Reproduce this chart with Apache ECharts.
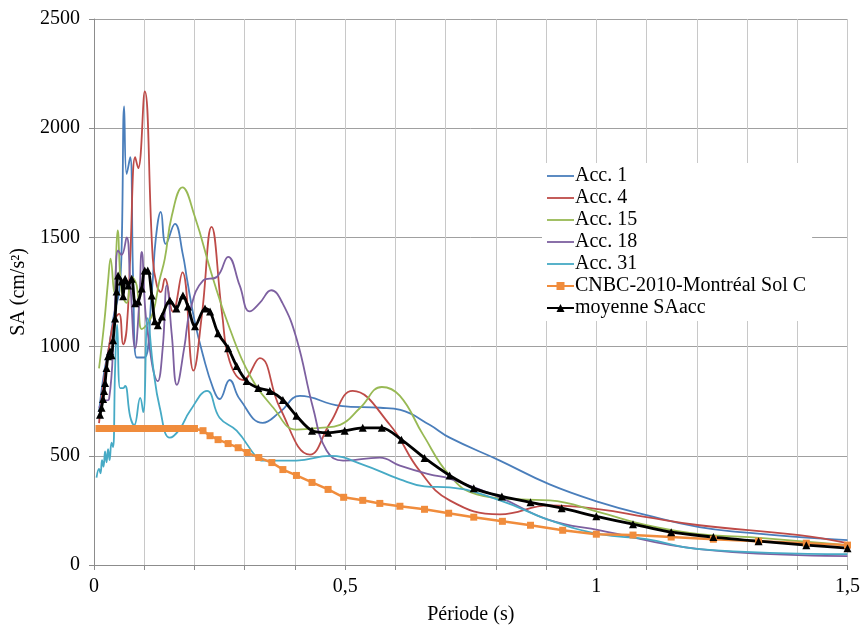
<!DOCTYPE html>
<html><head><meta charset="utf-8">
<script src="https://cdn.jsdelivr.net/npm/echarts@6/dist/echarts.min.js"></script>
<style>html,body{margin:0;padding:0;background:#fff}#c{width:863px;height:630px}</style>
</head><body><div id="c"></div>
<script>
var xTicks = ['0', '0,5', '1', '1,5'];
var yTicks = [0, 500, 1000, 1500, 2000, 2500];
var seriesNames = ['Acc. 1', 'Acc. 4', 'Acc. 15', 'Acc. 18', 'Acc. 31', 'CNBC-2010-Montréal Sol C', 'moyenne SAacc'];

var acc1 = [[0.01,700],[0.02,880],[0.03,1000],[0.04,1150],[0.05,1250],[0.055,1450],[0.06,2100],[0.065,1790],[0.072,1867],[0.078,1300],[0.085,950],[0.1,950],[0.115,1250],[0.123,1494],[0.133,1617],[0.143,1470],[0.161,1562],[0.177,1420],[0.185,1311],[0.2,1120],[0.217,960],[0.237,810],[0.25,760],[0.27,847],[0.29,760],[0.336,651],[0.37,700],[0.41,774],[0.49,729],[0.57,720],[0.61,710],[0.668,642],[0.708,583],[0.808,478],[0.907,369],[1.007,287],[1.1,228],[1.205,173],[1.3,148],[1.404,128],[1.5,114]];
var acc4 = [[0.01,650],[0.02,850],[0.03,1000],[0.04,1120],[0.05,1150],[0.058,1010],[0.065,1080],[0.072,1403],[0.082,1867],[0.088,1817],[0.101,2168],[0.117,1403],[0.125,1281],[0.133,1250],[0.141,1311],[0.157,1160],[0.176,1340],[0.198,890],[0.215,1150],[0.234,1548],[0.255,1150],[0.27,933],[0.297,847],[0.33,947],[0.37,720],[0.43,505],[0.47,650],[0.515,797],[0.589,642],[0.648,432],[0.708,296],[0.808,232],[0.907,273],[1.007,255],[1.1,219],[1.205,182],[1.404,137],[1.5,100]];
var acc15 = [[0.01,900],[0.02,1100],[0.028,1300],[0.033,1403],[0.04,1250],[0.047,1532],[0.055,1250],[0.065,1200],[0.075,1320],[0.085,1280],[0.095,1080],[0.105,1100],[0.118,1160],[0.13,1300],[0.141,1403],[0.155,1600],[0.176,1729],[0.2,1600],[0.237,1311],[0.27,1084],[0.31,870],[0.357,720],[0.403,620],[0.45,628],[0.49,642],[0.53,720],[0.573,815],[0.609,774],[0.655,597],[0.708,410],[0.762,323],[0.85,300],[0.907,296],[1.007,241],[1.1,182],[1.205,141],[1.305,128],[1.5,91]];
var acc18 = [[0.01,720],[0.02,750],[0.03,760],[0.04,1100],[0.048,1440],[0.055,1420],[0.065,1500],[0.072,1300],[0.082,993],[0.09,1200],[0.095,1434],[0.105,1100],[0.127,842],[0.137,1000],[0.145,1280],[0.155,1050],[0.165,825],[0.18,1000],[0.191,1161],[0.217,1302],[0.245,1320],[0.267,1411],[0.29,1280],[0.31,1161],[0.33,1200],[0.353,1258],[0.375,1200],[0.403,1038],[0.436,720],[0.463,524],[0.496,478],[0.569,492],[0.609,455],[0.668,415],[0.708,395],[0.808,310],[0.907,205],[1.007,159],[1.205,73],[1.5,41]];
var acc31 = [[0.005,400],[0.01,440],[0.013,420],[0.016,480],[0.019,450],[0.022,520],[0.025,470],[0.028,530],[0.031,480],[0.035,560],[0.038,540],[0.042,900],[0.046,1100],[0.052,810],[0.058,810],[0.062,820],[0.072,680],[0.08,640],[0.092,765],[0.098,700],[0.107,1130],[0.118,900],[0.131,720],[0.151,583],[0.17,620],[0.191,705],[0.225,797],[0.25,674],[0.284,615],[0.324,492],[0.336,478],[0.403,478],[0.47,500],[0.535,460],[0.609,392],[0.658,360],[0.708,355],[0.808,296],[0.907,205],[1.007,141],[1.1,118],[1.205,73],[1.5,50]];
var cnbc = [[0.01,625],[0.02,625],[0.03,625],[0.04,625],[0.05,625],[0.06,625],[0.07,625],[0.08,625],[0.09,625],[0.1,625],[0.11,625],[0.12,625],[0.13,625],[0.14,625],[0.15,625],[0.16,625],[0.17,625],[0.18,625],[0.19,625],[0.2,625],[0.217,615],[0.231,592],[0.247,574],[0.267,556],[0.287,537],[0.305,515],[0.328,492],[0.354,469],[0.376,437],[0.403,410],[0.434,378],[0.466,346],[0.497,310],[0.535,296],[0.569,282],[0.609,269],[0.658,255],[0.706,237],[0.756,219],[0.813,200],[0.869,182],[0.933,159],[1.0,141],[1.073,137],[1.149,128],[1.233,118],[1.323,109],[1.418,100],[1.5,91]];
var moyenne = [[0.012,688],[0.015,720],[0.018,760],[0.02,797],[0.022,833],[0.025,902],[0.028,956],[0.032,979],[0.035,960],[0.038,1029],[0.042,1129],[0.045,1252],[0.048,1325],[0.055,1298],[0.058,1230],[0.062,1311],[0.068,1280],[0.075,1311],[0.082,1198],[0.088,1207],[0.095,1266],[0.101,1348],[0.107,1348],[0.115,1234],[0.121,1116],[0.127,1098],[0.135,1138],[0.151,1211],[0.164,1175],[0.177,1234],[0.187,1184],[0.201,1093],[0.221,1175],[0.231,1161],[0.247,1061],[0.267,993],[0.284,911],[0.304,842],[0.327,810],[0.35,797],[0.376,756],[0.403,683],[0.434,615],[0.466,606],[0.499,615],[0.535,628],[0.573,628],[0.612,574],[0.658,490],[0.708,410],[0.756,351],[0.812,314],[0.869,287],[0.931,260],[1.0,223],[1.073,187],[1.149,150],[1.233,128],[1.323,109],[1.418,91],[1.5,77]];

var colors = ['#4A7EBB', '#BE4B48', '#98B954', '#7D60A0', '#46AAC5', '#F08C3C', '#000000'];
var FONT = '"Liberation Serif", "Times New Roman", serif';
var LINE_ICON = 'path://M0,0L30,0L30,2L0,2Z';

function accSeries(name, data, color) {
  return { name: name, type: 'line', data: data, smooth: 0.45, symbol: 'none',
    lineStyle: { width: 1.8, color: color }, itemStyle: { color: color } };
}

var legendData = seriesNames.map(function (n, i) {
  return i < 5 ? { name: n, icon: LINE_ICON } : { name: n };
});

var chart = echarts.init(document.getElementById('c'), null, { renderer: 'canvas' });
chart.setOption({
  animation: false,
  backgroundColor: '#fff',
  grid: { left: 94, right: 15, top: 19, bottom: 62 },
  xAxis: {
    type: 'value', min: 0, max: 1.5, interval: 0.1,
    name: 'Période (s)', nameLocation: 'middle', nameGap: 40,
    nameTextStyle: { fontFamily: FONT, fontSize: 20, color: '#000' },
    axisLine: { show: true, lineStyle: { color: '#8C8C8C', width: 1 } },
    axisTick: { show: true, length: 5, lineStyle: { color: '#8C8C8C' } },
    axisLabel: {
      margin: 12, fontFamily: FONT, fontSize: 20, color: '#000',
      formatter: function (v) {
        var k = Math.round(v * 2);
        if (Math.abs(v * 2 - k) < 1e-6) return xTicks[k] || '';
        return '';
      }
    },
    splitLine: { show: true, lineStyle: { color: '#C8C8C8', width: 1 } }
  },
  yAxis: {
    type: 'value', min: yTicks[0], max: yTicks[yTicks.length - 1], interval: 500,
    name: 'SA (cm/s²)', nameLocation: 'middle', nameGap: 64, nameRotate: 90,
    nameTextStyle: { fontFamily: FONT, fontSize: 20, color: '#000' },
    axisLine: { show: true, lineStyle: { color: '#8C8C8C', width: 1 } },
    axisTick: { show: true, length: 5, lineStyle: { color: '#8C8C8C' } },
    axisLabel: { margin: 14, fontFamily: FONT, fontSize: 20, color: '#000',
      formatter: function (v) { return String(v); } },
    splitLine: { show: true, lineStyle: { color: '#A0A0A0', width: 1 } }
  },
  legend: {
    orient: 'vertical', left: 542, top: 163,
    data: legendData,
    itemWidth: 27, itemHeight: 10, itemGap: 2,
    symbolKeepAspect: true,
    backgroundColor: '#ffffff', padding: [3, 6, 3, 4],
    textStyle: { fontFamily: FONT, fontSize: 20, color: '#000', padding: [0, 0, 0, -4] }
  },
  series: [
    accSeries(seriesNames[0], acc1, colors[0]),
    accSeries(seriesNames[1], acc4, colors[1]),
    accSeries(seriesNames[2], acc15, colors[2]),
    accSeries(seriesNames[3], acc18, colors[3]),
    accSeries(seriesNames[4], acc31, colors[4]),
    { name: seriesNames[5], type: 'line', data: cnbc, smooth: false, symbol: 'rect', symbolSize: 7,
      lineStyle: { width: 2.5, color: colors[5] }, itemStyle: { color: colors[5] } },
    { name: seriesNames[6], type: 'line', data: moyenne, smooth: 0.3, symbol: 'triangle', symbolSize: 8,
      lineStyle: { width: 2.8, color: colors[6] }, itemStyle: { color: colors[6] } }
  ]
});
</script></body></html>
